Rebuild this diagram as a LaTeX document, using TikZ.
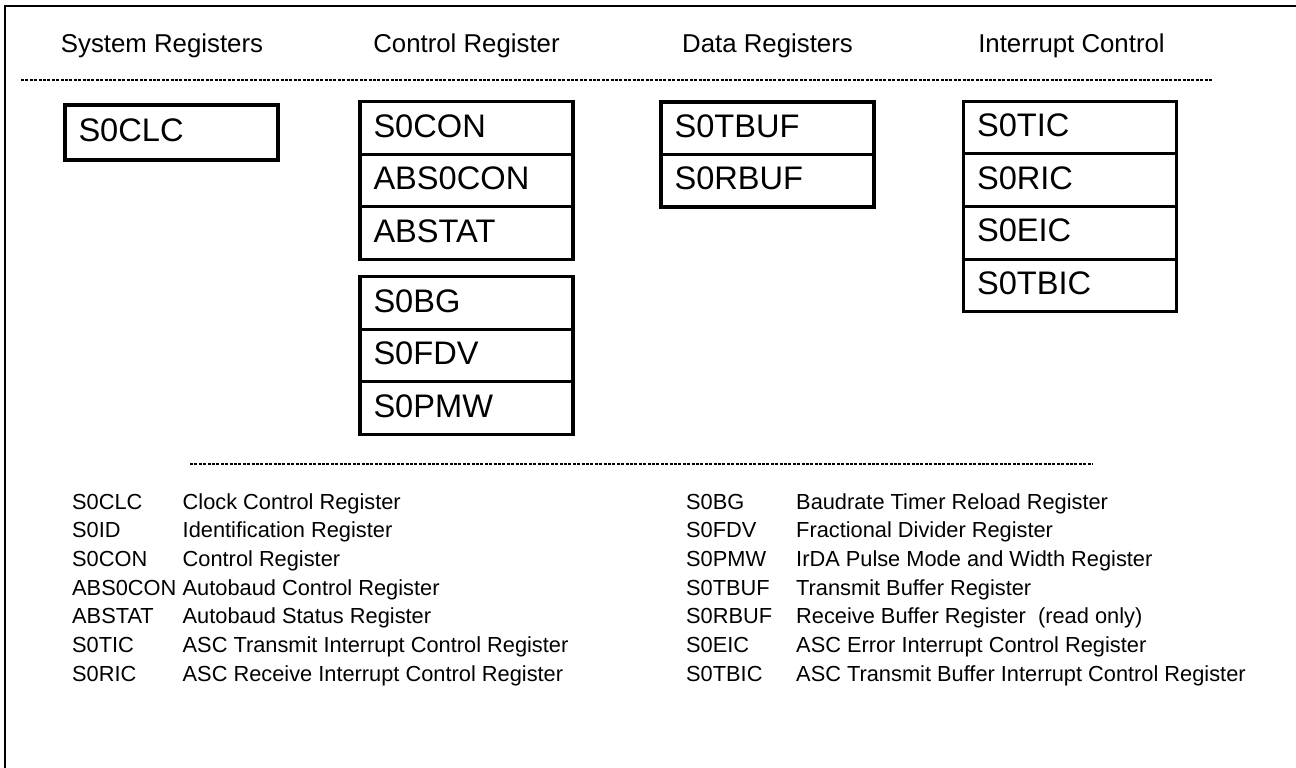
\documentclass[tikz,border=0pt]{standalone}
\usepackage{fontspec}
\setmainfont{Liberation Sans}
\begin{document}
\begin{tikzpicture}[x=1pt,y=-1pt,
  cell/.style={draw, line width=3.2pt, minimum width=213pt, minimum height=52.5pt,
    inner xsep=13.5pt, inner ysep=0pt, text width=186pt, align=left,
    text height=24pt, text depth=6pt, font=\fontsize{32.6}{36}\selectfont},
  head/.style={anchor=base, inner sep=0pt, font=\fontsize{25.8}{30}\selectfont},
  leg/.style={anchor=base west, inner sep=0pt, font=\fontsize{21.8}{26}\selectfont},
  sepline/.style={line width=2.2pt, dash pattern=on 3pt off 1.4pt},
  frameline/.style={line width=2pt}]
\useasboundingbox (0,0) rectangle (1296,768);

% frame
\draw[frameline] (5,768) -- (5,6) -- (1296,6);

% headers
\node[head] (hsys)  at (162,53)    {System Registers};
\node[head] (hctl)  at (466.5,53)  {Control Register};
\node[head] (hdata) at (767.5,53)  {Data Registers};
\node[head] (hint)  at (1071.5,53) {Interrupt Control};

% separators
\draw[sepline] (21,80) -- (1213,80);
\draw[sepline] (190,464) -- (1093,464);

% system registers
\node[cell, minimum height=55pt] (s0clc) at (171.5,132.5) {S0CLC};

% control registers
\node[cell] (s0con)   at (466.5,128)   {S0CON};
\node[cell] (abs0con) at (466.5,180.5) {ABS0CON};
\node[cell] (abstat)  at (466.5,233)   {ABSTAT};
\node[cell] (s0bg)    at (466.5,303)   {S0BG};
\node[cell] (s0fdv)   at (466.5,355.5) {S0FDV};
\node[cell] (s0pmw)   at (466.5,408)   {S0PMW};

% data registers
\node[cell] (s0tbuf) at (767.5,128.25) {S0TBUF};
\node[cell] (s0rbuf) at (767.5,180.75) {S0RBUF};

% interrupt control
\node[cell] (s0tic)  at (1070,127.4) {S0TIC};
\node[cell] (s0ric)  at (1070,180.1) {S0RIC};
\node[cell] (s0eic)  at (1070,232.9) {S0EIC};
\node[cell] (s0tbic) at (1070,285.6) {S0TBIC};

% legend, left column
\node[leg] (la1) at (72,509)   {S0CLC};
\node[leg] (ld1) at (182.5,509)   {Clock Control Register};
\node[leg] (la2) at (72,537.7) {S0ID};
\node[leg] (ld2) at (182.5,537.7) {Identification Register};
\node[leg] (la3) at (72,566.4) {S0CON};
\node[leg] (ld3) at (182.5,566.4) {Control Register};
\node[leg] (la4) at (72,595.1) {ABS0CON};
\node[leg] (ld4) at (182.5,595.1) {Autobaud Control Register};
\node[leg] (la5) at (72,623.8) {ABSTAT};
\node[leg] (ld5) at (182.5,623.8) {Autobaud Status Register};
\node[leg] (la6) at (72,652.5) {S0TIC};
\node[leg] (ld6) at (182.5,652.5) {ASC Transmit Interrupt Control Register};
\node[leg] (la7) at (72,681.2) {S0RIC};
\node[leg] (ld7) at (182.5,681.2) {ASC Receive Interrupt Control Register};

% legend, right column
\node[leg] (ra1) at (686,509)   {S0BG};
\node[leg] (rd1) at (796,509)   {Baudrate Timer Reload Register};
\node[leg] (ra2) at (686,537.7) {S0FDV};
\node[leg] (rd2) at (796,537.7) {Fractional Divider Register};
\node[leg] (ra3) at (686,566.4) {S0PMW};
\node[leg] (rd3) at (796,566.4) {IrDA Pulse Mode and Width Register};
\node[leg] (ra4) at (686,595.1) {S0TBUF};
\node[leg] (rd4) at (796,595.1) {Transmit Buffer Register};
\node[leg] (ra5) at (686,623.8) {S0RBUF};
\node[leg] (rd5) at (796,623.8) {Receive Buffer Register\ \ (read only)};
\node[leg] (ra6) at (686,652.5) {S0EIC};
\node[leg] (rd6) at (796,652.5) {ASC Error Interrupt Control Register};
\node[leg] (ra7) at (686,681.2) {S0TBIC};
\node[leg] (rd7) at (796,681.2) {ASC Transmit Buffer Interrupt Control Register};
\end{tikzpicture}
\end{document}
